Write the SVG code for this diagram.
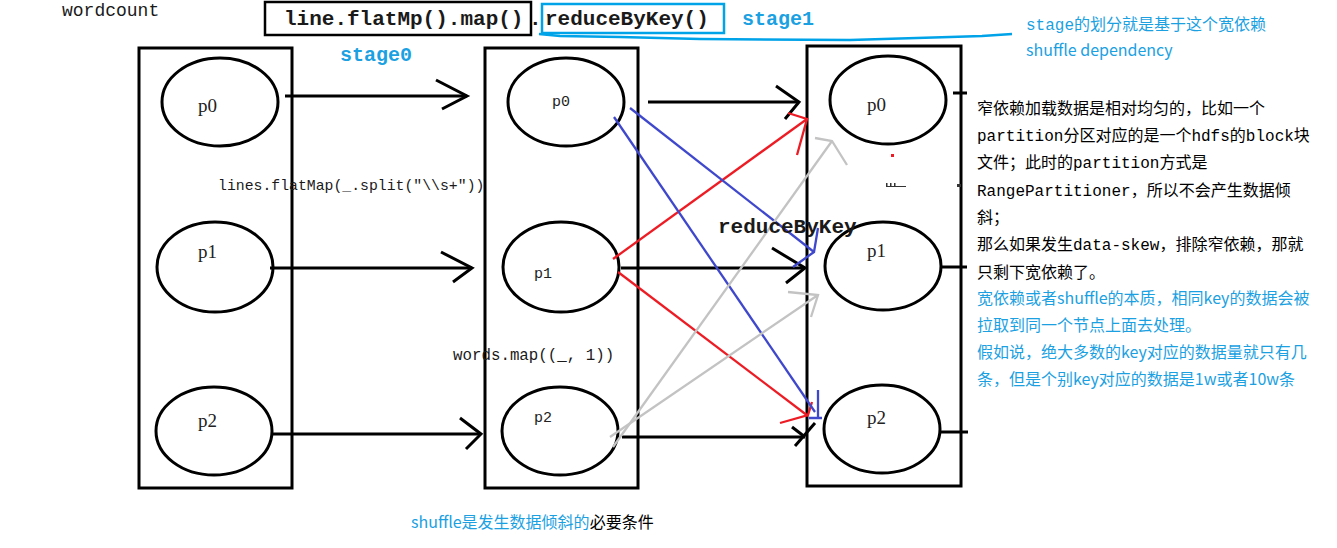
<svg xmlns="http://www.w3.org/2000/svg" width="1337" height="548" viewBox="0 0 1337 548">
<defs>
<style>
.box{fill:none;stroke:#000;stroke-width:3}
.ell{fill:none;stroke:#000;stroke-width:3}
.blk{fill:none;stroke:#000;stroke-width:3}
.red{fill:none;stroke:#ed1c24;stroke-width:2.3}
.blu{fill:none;stroke:#3f48cc;stroke-width:2.3}
.gry{fill:none;stroke:#c3c3c3;stroke-width:2.3}
.pl{font-family:"Liberation Serif",serif;font-size:19px;fill:#222}
.pm{font-family:"Liberation Mono",monospace;font-size:15px;fill:#222}
.code{font-family:"Liberation Mono",monospace;fill:#1a1a1a}
.cn{font-family:"Liberation Mono","Noto Sans CJK SC",monospace;font-size:16px;fill:#000}
.cb{font-family:"Noto Sans CJK SC","Noto Sans",sans-serif;font-size:16px;fill:#1ba1e2}
.stg{font-family:"Liberation Mono",monospace;font-size:20px;font-weight:bold;fill:#1ba1e2}
</style>
</defs>
<rect x="0" y="0" width="1337" height="548" fill="#fff"/>

<g id="title">
<text class="code" x="62" y="16" font-size="18">wordcount</text>
<rect x="265" y="2" width="266" height="33" fill="none" stroke="#000" stroke-width="2.5"/>
<rect x="542" y="4" width="182" height="29" fill="none" stroke="#00a2e8" stroke-width="2.5"/>
<text class="code" x="284" y="25" font-size="21" font-weight="bold">line.flatMp().map()</text>
<text class="code" x="529" y="25" font-size="21" font-weight="bold">.</text>
<text class="code" x="545" y="25" font-size="21" font-weight="bold">reduceByKey()</text>
<text class="stg" x="742" y="25">stage1</text>
<text class="stg" x="340" y="61">stage0</text>
<polyline points="539,34 560,36 620,37 700,39 850,40 950,37 982,36 1012,34" fill="none" stroke="#00a2e8" stroke-width="2.5"/>
</g>

<g id="rdd-lines">
<rect class="box" x="139" y="48" width="153" height="440"/>
<g id="lines-p0"><ellipse class="ell" cx="220" cy="102" rx="58" ry="44"/><text class="pl" x="198" y="112">p0</text></g>
<g id="lines-p1"><ellipse class="ell" cx="215" cy="267" rx="58" ry="45"/><text class="pl" x="198" y="258">p1</text></g>
<g id="lines-p2"><ellipse class="ell" cx="214" cy="431" rx="58" ry="44"/><text class="pl" x="198" y="427">p2</text></g>
</g>

<g id="rdd-words">
<rect class="box" x="485" y="48" width="153" height="440"/>
<g id="words-p0"><ellipse class="ell" cx="566" cy="102" rx="58" ry="44"/><text class="pm" x="552" y="106">p0</text></g>
<g id="words-p1"><ellipse class="ell" cx="561" cy="267" rx="58" ry="45"/><text class="pm" x="534" y="278">p1</text></g>
<g id="words-p2"><ellipse class="ell" cx="560" cy="431" rx="58" ry="44"/><text class="pm" x="534" y="422">p2</text></g>
</g>

<g id="rdd-reduced">
<rect class="box" x="807" y="46" width="154" height="440"/>
<g id="red-p0"><ellipse class="ell" cx="888" cy="100" rx="58" ry="44"/><text class="pl" x="867" y="111">p0</text></g>
<g id="red-p1"><ellipse class="ell" cx="883" cy="266" rx="58" ry="44"/><text class="pl" x="867" y="257">p1</text></g>
<g id="red-p2"><ellipse class="ell" cx="882" cy="429" rx="58" ry="44"/><text class="pl" x="867" y="424">p2</text></g>
</g>

<g id="connectors">
<line class="blk" x1="285" y1="96" x2="467" y2="96"/>
<polyline class="blk" points="436,80 467,96 442,109"/>
<line class="blk" x1="270" y1="268" x2="472" y2="268"/>
<polyline class="blk" points="441,252 472,268 453,282"/>
<line class="blk" x1="272" y1="434" x2="481" y2="434"/>
<polyline class="blk" points="460,418 481,434 466,449"/>
<line class="blk" x1="648" y1="102" x2="799" y2="102"/>
<polyline class="blk" points="776,86 799,102 785,119"/>
<line class="blk" x1="621" y1="268" x2="805" y2="268"/>
<polyline class="blk" points="772,248 805,268 786,283"/>
<line class="blk" x1="622" y1="437" x2="805" y2="437"/>
<line class="blk" x1="792" y1="427" x2="805" y2="437"/>
<line class="blk" x1="795" y1="446" x2="815" y2="423"/>
<line class="blk" x1="953" y1="93" x2="967" y2="93"/>
<line class="blk" x1="940" y1="267" x2="967" y2="267"/>
<line class="blk" x1="940" y1="432" x2="968" y2="432"/>
<line class="red" x1="613" y1="259" x2="807" y2="119"/>
<polyline class="red" points="788,113 807,119 797,155"/>
<line class="red" x1="618" y1="272" x2="808" y2="416"/>
<polyline class="red" points="780,423 808,415 812,402"/>
<line class="blu" x1="630" y1="108" x2="814" y2="252"/>
<polyline class="blu" points="793,267 814,252 818,228"/>
<line class="blu" x1="614" y1="117" x2="815" y2="412"/>
<polyline class="blu" points="818,390 818,418 809,418 822,418"/>
<line class="gry" x1="613" y1="447" x2="832" y2="141"/>
<polyline class="gry" points="815,138 832,141 847,165"/>
<line class="gry" x1="610" y1="437" x2="818" y2="295"/>
<polyline class="gry" points="788,292 818,295 811,317"/>
</g>

<g id="labels">
<text class="code" x="218" y="190" font-size="14.8">lines.flatMap(_.split("\\s+"))</text>
<text class="code" x="453" y="360" font-size="15.8">words.map((_, 1))</text>
<text class="code" x="718" y="233" font-size="21" font-weight="bold">reduceByKey</text>
</g>

<g id="marks">
<rect x="891" y="154" width="3" height="3" fill="#ed1c24"/>
<rect x="886" y="183" width="1.5" height="4" fill="#333"/>
<rect x="890" y="183" width="1.5" height="4" fill="#333"/>
<rect x="894" y="183" width="1.5" height="4" fill="#333"/>
<rect x="886" y="186" width="20" height="1" fill="#333"/>
<rect x="957" y="184" width="4" height="3" fill="#333"/>
</g>

<g id="notes">
<text class="cb" x="1026" y="30"><tspan font-family="Liberation Mono,monospace">stage</tspan>的划分就是基于这个宽依赖</text>
<text class="cb" x="1026" y="56">shuffle dependency</text>
<text class="cn" x="977" y="114">窄依赖加载数据是相对均匀的，比如一个</text>
<text class="cn" x="977" y="141">partition分区对应的是一个hdfs的block块</text>
<text class="cn" x="977" y="168">文件；此时的partition方式是</text>
<text class="cn" x="977" y="196">RangePartitioner，所以不会产生数据倾</text>
<text class="cn" x="977" y="223">斜；</text>
<text class="cn" x="977" y="250">那么如果发生data-skew，排除窄依赖，那就</text>
<text class="cn" x="977" y="278">只剩下宽依赖了。</text>
<text class="cb" x="977" y="304">宽依赖或者shuffle的本质，相同key的数据会被</text>
<text class="cb" x="977" y="331">拉取到同一个节点上面去处理。</text>
<text class="cb" x="977" y="358">假如说，绝大多数的key对应的数据量就只有几</text>
<text class="cb" x="977" y="385">条，但是个别key对应的数据是1w或者10w条</text>
<text class="cb" x="411" y="528">shuffle是发生数据倾斜的<tspan fill="#000">必要条件</tspan></text>
</g>
</svg>
